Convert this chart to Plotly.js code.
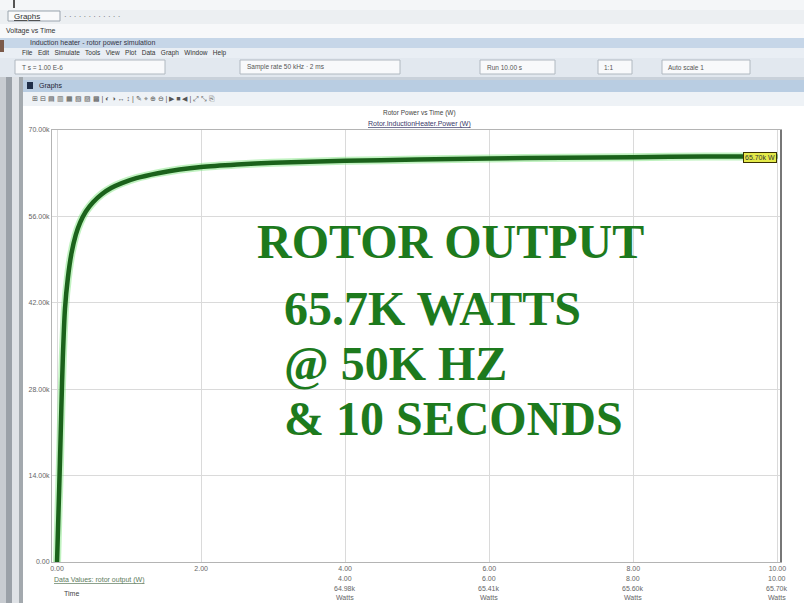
<!DOCTYPE html>
<html>
<head>
<meta charset="utf-8">
<script src="https://cdn.plot.ly/plotly-3.0.1.min.js"></script>
<style>html,body{margin:0;padding:0;background:#fff;}#chart{width:804px;height:603px;}</style>
</head>
<body>
<div id="chart"></div>
<script>
// ---- data ----
const timeS = [0, 0.02, 0.04, 0.06, 0.08, 0.11, 0.15, 0.20, 0.26, 0.32, 0.40, 0.50, 0.62, 0.75, 0.9, 1.1, 1.4, 1.7, 2.0, 2.5, 3.0, 4.0, 5.0, 6.0, 7.0, 8.0, 9.0, 10.0];
const powerK = [0, 8, 16, 25, 33, 41, 46, 50, 53, 55, 56.8, 58.3, 59.6, 60.6, 61.4, 62.2, 63.0, 63.6, 64.0, 64.4, 64.7, 65.0, 65.2, 65.4, 65.5, 65.6, 65.7, 65.7];
const yTickVals = [0, 14, 28, 42, 56, 70];
const yTickText = ["0.00", "14.00k", "28.00k", "42.00k", "56.00k", "70.00k"];
const xTickVals = [0, 2, 4, 6, 8, 10];
const xTickText = ["0.00", "2.00", "4.00", "6.00", "8.00", "10.00"];
const overlayLines = ["ROTOR OUTPUT", "65.7K WATTS", "@ 50K HZ", "& 10 SECONDS"];
const endLabel = "65.70k W";
const cursorRows = [["4.00", "6.00", "8.00", "10.00"], ["64.98k", "65.41k", "65.60k", "65.70k"], ["Watts", "Watts", "Watts", "Watts"]];

// ---- geometry helpers (pixel -> paper) ----
const L = 52, R = 781, T = 130, B = 562;
const px = x => (x - L) / (R - L);
const py = y => (B - y) / (B - T);
function rect(x0, y0, x1, y1, fill, line) {
  return {type: 'rect', xref: 'paper', yref: 'paper', x0: px(x0), x1: px(x1), y0: py(y1), y1: py(y0),
    fillcolor: fill, line: {width: line ? 1 : 0, color: line || fill}, layer: 'below'};
}
function vline(x, y0, y1, color, w) {
  return {type: 'line', xref: 'paper', yref: 'paper', x0: px(x), x1: px(x), y0: py(y0), y1: py(y1), line: {color: color, width: w || 1}};
}
function txt(x, y, s, size, color, anchor, extra) {
  return Object.assign({xref: 'paper', yref: 'paper', x: px(x), y: py(y), text: s, showarrow: false,
    xanchor: anchor || 'left', yanchor: 'middle', font: {family: 'Liberation Sans, Arial', size: size, color: color}}, extra || {});
}
const bigFont = {family: 'Liberation Serif, Times New Roman, serif', size: 48, color: '#1d7a1d'};

// ---- window chrome (decoration) ----
const shapes = [
  rect(0, 0, 804, 10, '#f4f6f8'),
  rect(0, 10, 804, 24, '#eceff2'),
  rect(0, 24, 804, 38, '#f7f8fa'),
  rect(0, 38, 804, 48, '#c6d6e8'),
  rect(0, 48, 804, 58, '#e9eef4'),
  rect(0, 58, 804, 77, '#e2e8ef'),
  rect(0, 77, 804, 80, '#c9d1da'),
  rect(22, 80, 804, 92, '#b9cde2'),
  rect(22, 92, 804, 106, '#eef2f6'),
  rect(0, 77, 6, 603, '#c8ccd1'),
  rect(6, 77, 12, 603, '#9ba1a8'),
  rect(12, 77, 19, 603, '#dfe2e6'),
  rect(19, 77, 23, 603, '#a3a9ae'),
  rect(15, 60, 165, 74, '#f8f9fb', '#b0b8c0'),
  rect(240, 60, 400, 74, '#f8f9fb', '#b0b8c0'),
  rect(480, 60, 555, 74, '#f8f9fb', '#b0b8c0'),
  rect(598, 60, 632, 74, '#f8f9fb', '#b0b8c0'),
  rect(662, 60, 750, 74, '#f8f9fb', '#b0b8c0'),
  rect(27, 82, 33, 89, '#1f2f4a'),
  rect(8, 11, 60, 21, '#f9fafb', '#9aa4ae'),
  rect(0, 40, 4, 52, '#7b5a4a'),
  vline(14, 0, 8, '#555', 2),
  vline(781, 130, 562, '#777777', 2)
];

const annotations = [
  txt(12, 16, '<u>Graphs</u>', 8, '#333'),
  txt(62, 16, '· · · · · · · · · · · ·', 8, '#666'),
  txt(4, 31, 'Voltage vs Time', 7, '#333'),
  txt(28, 43, 'Induction heater - rotor power simulation', 7, '#334'),
  txt(20, 53, 'File   Edit   Simulate   Tools   View   Plot   Data   Graph   Window   Help', 6.5, '#333'),
  txt(20, 67, 'T s = 1.00 E-6', 6.5, '#555'),
  txt(245, 67, 'Sample rate 50 kHz · 2 ms', 6.5, '#555'),
  txt(485, 67, 'Run 10.00 s', 6.5, '#555'),
  txt(602, 67, '1:1', 6.5, '#555'),
  txt(666, 67, 'Auto scale 1', 6.5, '#555'),
  txt(37, 86, 'Graphs', 7, '#223'),
  txt(30, 99, '⊞ ⊟ ▤ ▥ ▦ ▧ ▨ ▩ | ◐ ◑ ↔ ↕ | ✎ ⌖ ⊕ ⊖ | ▶ ■ ◀ | ⤢ ⤡ ⎘', 7, '#555'),
  txt(420, 113, 'Rotor Power vs Time (W)', 6.5, '#444', 'center'),
  txt(420, 124, '<u>Rotor.InductionHeater.Power (W)</u>', 7, '#3a3a6a', 'center'),
  txt(255, 241, '<b>' + overlayLines[0] + '</b>', 48, '#1d7a1d', 'left', {font: bigFont}),
  txt(282, 308, '<b>' + overlayLines[1] + '</b>', 48, '#1d7a1d', 'left', {font: bigFont}),
  txt(282, 363, '<b>' + overlayLines[2] + '</b>', 48, '#1d7a1d', 'left', {font: bigFont}),
  txt(282, 418, '<b>' + overlayLines[3] + '</b>', 48, '#1d7a1d', 'left', {font: bigFont}),
  {xref: 'x', yref: 'y', x: timeS[timeS.length - 1], y: powerK[powerK.length - 1], text: endLabel, showarrow: false,
   xanchor: 'right', yanchor: 'bottom', yshift: -6, bgcolor: '#e4ea4a', bordercolor: '#3a3200', borderwidth: 1, borderpad: 1,
   font: {family: 'Liberation Sans, Arial', size: 7, color: '#333'}},
  txt(52, 580, '<u>Data Values: rotor output (W)</u>', 7, '#5c7a5c'),
  txt(62, 593, 'Time', 7, '#444')
];
const rowY = [578, 588, 597];
const rowX = [4, 6, 8, 10];
cursorRows.forEach((row, ri) => row.forEach((s, ci) => {
  annotations.push({xref: 'x', yref: 'paper', x: rowX[ci], y: py(rowY[ri]), text: s, showarrow: false,
    xanchor: 'center', yanchor: 'middle', font: {family: 'Liberation Sans, Arial', size: 7, color: '#666'}});
}));

const traces = [
  {x: timeS, y: powerK, type: 'scatter', mode: 'lines', line: {color: 'rgba(130,230,130,0.5)', width: 8, shape: 'spline', smoothing: 0.5}, hoverinfo: 'skip', showlegend: false},
  {x: timeS, y: powerK, type: 'scatter', mode: 'lines', line: {color: '#1b621b', width: 4.5, shape: 'spline', smoothing: 0.5}, name: 'Rotor power', showlegend: false}
];

const layout = {
  width: 804, height: 603,
  margin: {l: L, r: 804 - R, t: T, b: 603 - B, pad: 0},
  paper_bgcolor: '#ffffff', plot_bgcolor: '#ffffff',
  showlegend: false,
  xaxis: {range: [-0.07, 10.05], tickvals: xTickVals, ticktext: xTickText, showgrid: true, gridcolor: '#dadada', gridwidth: 1,
    zeroline: false, showline: true, linecolor: '#b4b4b4', mirror: true, ticks: '', ticklen: 0,
    tickfont: {family: 'Liberation Sans, Arial', size: 7, color: '#666'}},
  yaxis: {range: [0, 70], tickvals: yTickVals, ticktext: yTickText, showgrid: true, gridcolor: '#dadada', gridwidth: 1,
    zeroline: false, showline: true, linecolor: '#b4b4b4', mirror: true, ticks: '', ticklen: 0,
    tickfont: {family: 'Liberation Sans, Arial', size: 7, color: '#666'}},
  shapes: shapes,
  annotations: annotations
};
Plotly.newPlot('chart', traces, layout, {staticPlot: true, displayModeBar: false});
</script>
</body>
</html>
